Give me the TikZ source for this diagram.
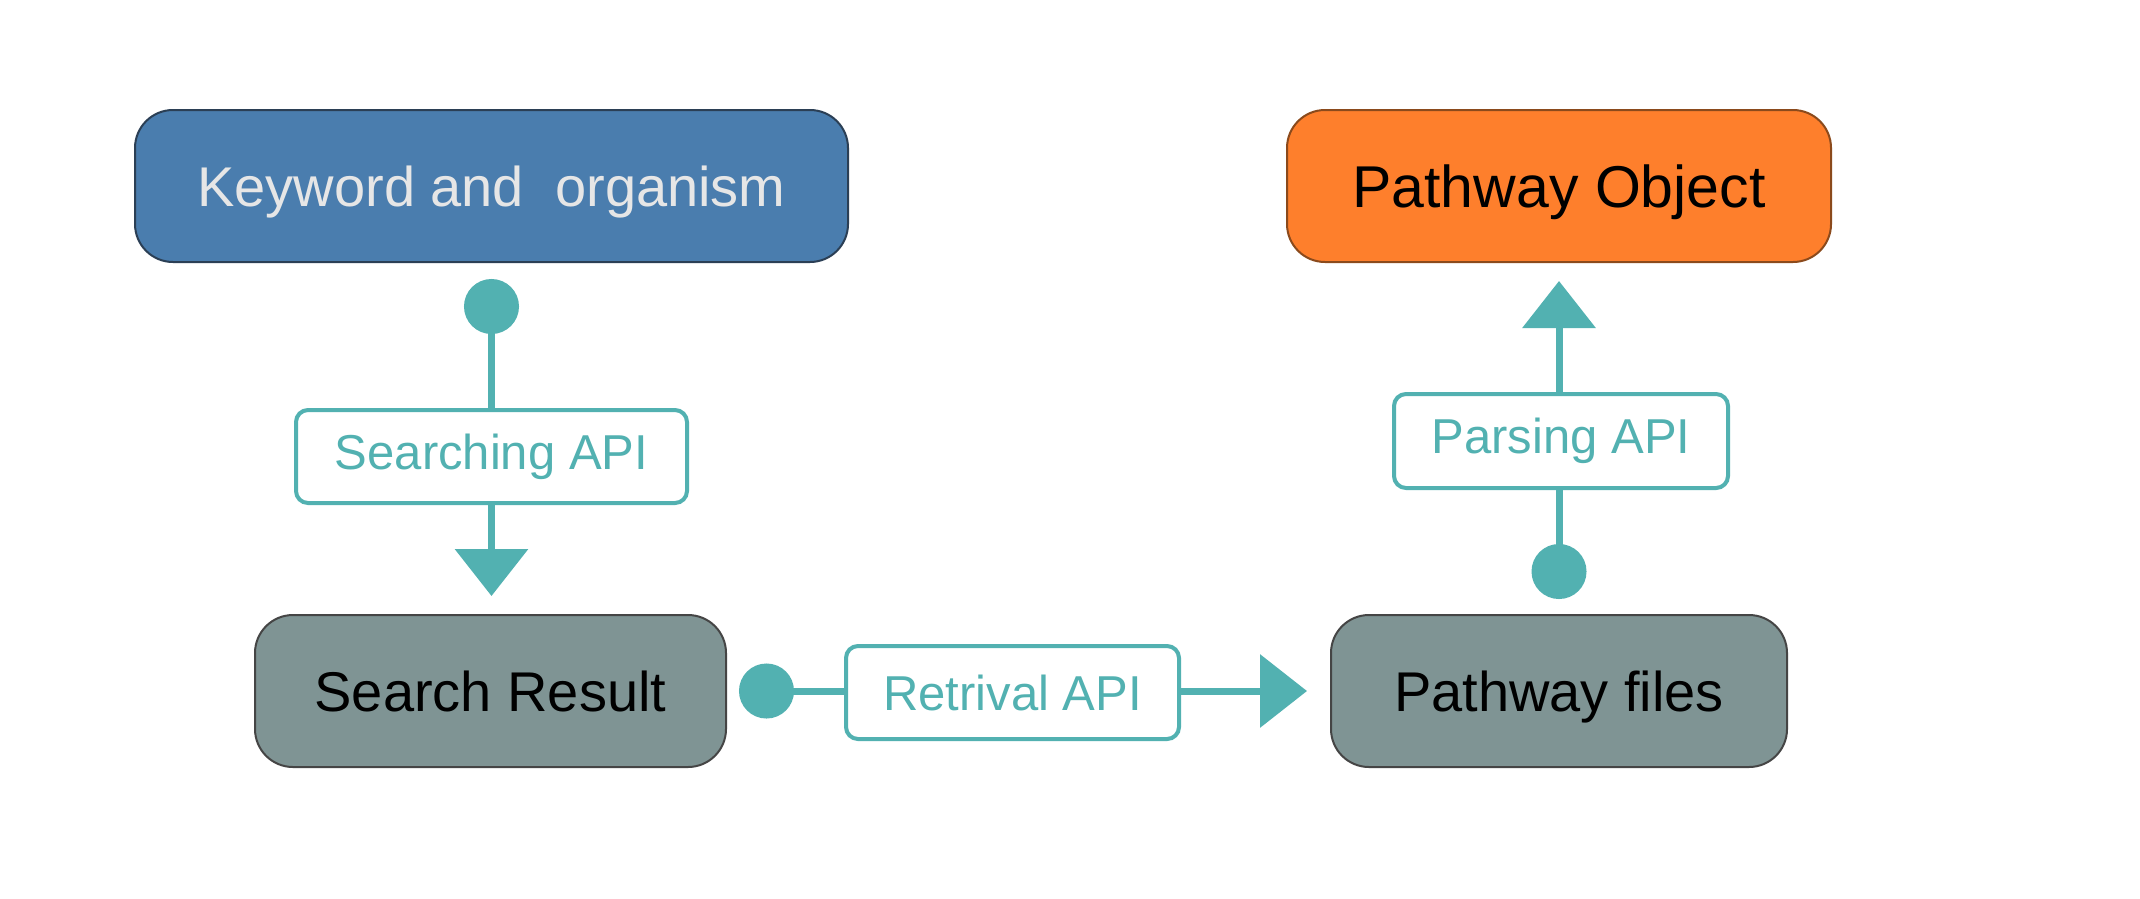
\documentclass[tikz,border=0pt]{standalone}
\usepackage{fontspec}
\setmainfont{Liberation Sans}
\usetikzlibrary{arrows.meta}
\definecolor{kwblue}{HTML}{4A7DAE}
\definecolor{kwborder}{HTML}{2B3F55}
\definecolor{kwtext}{HTML}{E6E6E6}
\definecolor{objorange}{HTML}{FE7F2C}
\definecolor{objborder}{HTML}{8B4A1C}
\definecolor{filegray}{HTML}{7F9494}
\definecolor{fileborder}{HTML}{454545}
\definecolor{tealc}{HTML}{52B1B1}
\begin{document}
\begin{tikzpicture}[x=1pt,y=-1pt,
  box/.style={draw, line width=2pt, rounded corners=38pt, inner sep=0pt, text depth=0pt, font=\fontsize{56}{68}\selectfont},
  lab/.style={draw=tealc, fill=white, line width=4pt, rounded corners=12pt, inner sep=0pt, text=tealc, font=\fontsize{49}{58}\selectfont},
  conn/.style={draw=tealc, line width=7pt, {Circle[length=55pt,width=55pt]}-{Triangle[length=47pt,width=72pt]}}]
\useasboundingbox[fill=white] (0,0) rectangle (2140,898);
% boxes
\node[box, draw=kwborder, fill=kwblue, text=kwtext, minimum width=713pt, minimum height=152pt] (kw) at (491.5,186) {Keyword and\ \ organism};
\node[box, draw=objborder, fill=objorange, text=black, minimum width=544pt, minimum height=152pt, font=\fontsize{59}{70}\selectfont] (po) at (1559,186) {Pathway Object};
\node[box, draw=fileborder, fill=filegray, text=black, minimum width=471pt, minimum height=152pt] (sr) at (490.5,691) {Search Result};
\node[box, draw=fileborder, fill=filegray, text=black, minimum width=456pt, minimum height=152pt] (pf) at (1559,691) {Pathway files};
% connectors
\draw[conn, shorten <=16pt, shorten >=18pt] (kw.south) -- (kw.south |- sr.north);
\draw[conn, shorten <=12pt, shorten >=23pt] (sr.east) -- (pf.west);
\draw[conn, shorten <=15pt, shorten >=18pt] (pf.north) -- (po.south);
% labels
\node[lab, minimum width=391pt, minimum height=93pt] (l1) at (491.5,456.5) {Searching API};
\node[lab, minimum width=333pt, minimum height=93pt] (l2) at (1012.5,692.5) {Retrival API};
\node[lab, minimum width=334pt, minimum height=94pt] (l3) at (1561,441) {Parsing API};
\end{tikzpicture}
\end{document}
